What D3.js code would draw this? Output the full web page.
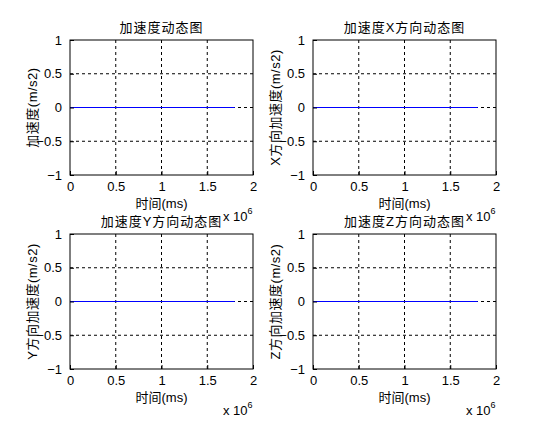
<!DOCTYPE html><html><head><meta charset="utf-8"><script src="https://d3js.org/d3.v7.min.js"></script>
<style>body{margin:0;background:#fff}text{font-family:"Liberation Sans","Noto Sans CJK SC",sans-serif;font-size:13px;fill:#000}</style></head><body>
<svg id="c" width="543" height="434"></svg>
<script>
const titles=["加速度动态图","加速度X方向动态图","加速度Y方向动态图","加速度Z方向动态图"];
const ylabels=["加速度(m/s2)","X方向加速度(m/s2)","Y方向加速度(m/s2)","Z方向加速度(m/s2)"];
const xlabel="时间(ms)";
const xTicks=[0,0.5e6,1e6,1.5e6,2e6];
const xTickLabels=["0","0.5","1","1.5","2"];
const yTicks=[-1,-0.5,0,0.5,1];
const seriesX=[0,1.8e6];
const seriesY=[0,0];
const svg=d3.select("#c");
const panels=[{x:70,y:40},{x:313,y:40},{x:70,y:234},{x:313,y:234}];
const W=183,H=135;
panels.forEach((p,i)=>{
 const g=svg.append("g").attr("transform",`translate(${p.x},${p.y})`);
 const x=d3.scaleLinear().domain([0,2e6]).range([0,W]);
 const y=d3.scaleLinear().domain([-1,1]).range([H,0]);
 g.append("g").selectAll("line.gx").data(xTicks.slice(1,-1)).join("line").attr("x1",d=>x(d)).attr("x2",d=>x(d)).attr("y1",0).attr("y2",H).attr("stroke","#000").attr("stroke-dasharray","3,3");
 g.append("g").selectAll("line.gy").data(yTicks.slice(1,-1)).join("line").attr("y1",d=>y(d)).attr("y2",d=>y(d)).attr("x1",0).attr("x2",W).attr("stroke","#000").attr("stroke-dasharray","3,3");
 g.append("path").datum(seriesX.map((d,k)=>[d,seriesY[k]])).attr("d",d3.line().x(d=>x(d[0])).y(d=>y(d[1]))).attr("stroke","#0000ff").attr("fill","none").attr("stroke-width",1);
 const xa=g.append("g").attr("transform",`translate(0,${H})`).call(d3.axisBottom(x).tickValues(xTicks).tickFormat((d,k)=>xTickLabels[k]).tickSizeInner(-4).tickSizeOuter(0).tickPadding(7));
 const ya=g.append("g").call(d3.axisLeft(y).tickValues(yTicks).tickFormat(d3.format("")).tickSizeInner(-4).tickSizeOuter(0).tickPadding(8));
 [xa,ya].forEach(a=>{a.select(".domain").remove();a.selectAll("text").attr("font-size",13).attr("font-family",null)});
 g.append("rect").attr("width",W).attr("height",H).attr("fill","none").attr("stroke","#000");
 g.append("text").attr("x",W/2).attr("y",-8).attr("text-anchor","middle").attr("letter-spacing",1).text(titles[i]);
 g.append("text").attr("x",W/2).attr("y",H+33).attr("text-anchor","middle").text(xlabel);
 const e=g.append("text").attr("x",W-30).attr("y",H+46);
 e.append("tspan").text("x 10");e.append("tspan").attr("dy",-7).attr("font-size",9).text("6");
 g.append("text").attr("transform",`translate(-33,${H/2}) rotate(-90)`).attr("text-anchor","middle").attr("letter-spacing",0.5).text(ylabels[i]);
});
</script></body></html>
